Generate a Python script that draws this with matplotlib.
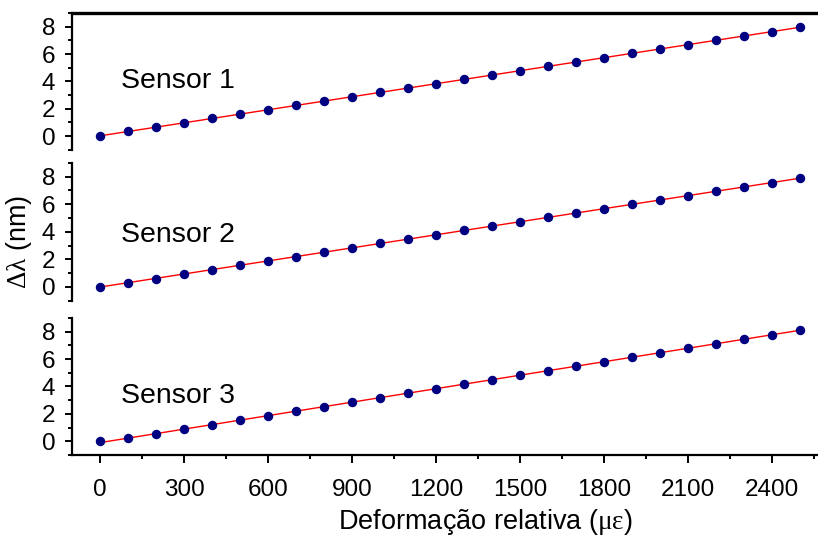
import matplotlib
matplotlib.use("Agg")
import matplotlib.pyplot as plt
import numpy as np
from matplotlib.ticker import MultipleLocator

plt.rcParams["font.family"] = ["Liberation Sans", "DejaVu Sans"]
plt.rcParams["mathtext.fontset"] = "custom"
plt.rcParams["mathtext.rm"] = "Liberation Serif"
plt.rcParams["mathtext.it"] = "Liberation Serif"

# strain steps (micro-strain)
strain = [0, 100, 200, 300, 400, 500, 600, 700, 800, 900, 1000, 1100, 1200,
          1300, 1400, 1500, 1600, 1700, 1800, 1900, 2000, 2100, 2200, 2300, 2400, 2500]

# wavelength shift (nm)
sensor1 = [0.00, 0.35, 0.67, 0.99, 1.30, 1.61, 1.93, 2.24, 2.56, 2.87, 3.19, 3.51, 3.82,
           4.14, 4.45, 4.77, 5.09, 5.41, 5.73, 6.04, 6.36, 6.68, 7.00, 7.32, 7.64, 7.97]
sensor2 = [0.00, 0.30, 0.61, 0.94, 1.25, 1.58, 1.90, 2.20, 2.52, 2.83, 3.15, 3.47, 3.78,
           4.10, 4.41, 4.72, 5.04, 5.35, 5.67, 5.99, 6.30, 6.62, 6.93, 7.25, 7.56, 7.88]
sensor3 = [0.00, 0.22, 0.52, 0.87, 1.19, 1.53, 1.87, 2.19, 2.52, 2.84, 3.17, 3.50, 3.83,
           4.16, 4.49, 4.82, 5.15, 5.48, 5.81, 6.13, 6.46, 6.79, 7.12, 7.45, 7.78, 8.12]

series = [sensor1, sensor2, sensor3]
labels = ["Sensor 1", "Sensor 2", "Sensor 3"]
label_y = [4.0, 3.75, 3.3]

fig = plt.figure(figsize=(8.18, 5.39), dpi=100)
boxes = [(0.088, 0.722, 0.912, 0.254),
         (0.088, 0.442, 0.912, 0.256),
         (0.088, 0.156, 0.912, 0.254)]

x = np.array(strain, dtype=float)
axes = []
for i, (vals, lab, ly, box) in enumerate(zip(series, labels, label_y, boxes)):
    ax = fig.add_axes(box)
    axes.append(ax)
    y = np.array(vals)
    k, b = np.polyfit(x, y, 1)
    ax.plot(x, k * x + b, color="red", linewidth=1.0, zorder=2)
    ax.plot(x, y, "o", color="#000080", markersize=5.8, zorder=3)
    ax.text(75, ly, lab, fontsize=20.5, va="center", ha="left")

    ax.set_xlim(-100, 2565)
    ax.set_ylim(-1, 9)
    ax.yaxis.set_major_locator(MultipleLocator(2))
    ax.yaxis.set_minor_locator(MultipleLocator(1))
    ax.xaxis.set_major_locator(MultipleLocator(300))
    ax.xaxis.set_minor_locator(MultipleLocator(150))
    ax.tick_params(axis="y", which="major", length=5, width=1.4, labelsize=17.5, pad=7)
    ax.tick_params(axis="y", which="minor", length=3, width=1.4)
    ax.spines["right"].set_visible(False)
    ax.spines["left"].set_linewidth(1.6)
    ax.patch.set_alpha(0)

    if i == 0:
        ax.spines["top"].set_linewidth(2.4)
    else:
        ax.spines["top"].set_visible(False)

    if i == 2:
        ax.spines["bottom"].set_linewidth(1.6)
        ax.tick_params(axis="x", which="major", length=6, width=1.4, labelsize=17.5, pad=11)
        ax.tick_params(axis="x", which="minor", length=3, width=1.4)
        ax.set_xlabel(r"Deformação relativa ($\mathrm{\mu\varepsilon}$)", fontsize=19.5)
        ax.xaxis.set_label_coords(0.554, -0.38)
    else:
        ax.spines["bottom"].set_visible(False)
        ax.tick_params(axis="x", which="both", bottom=False, labelbottom=False)

axes[1].set_ylabel(r"$\mathrm{\Delta\lambda}$ (nm)", fontsize=19.5)
axes[1].yaxis.set_label_coords(-0.051, 0.43)

fig.savefig("out.png", dpi=100)
